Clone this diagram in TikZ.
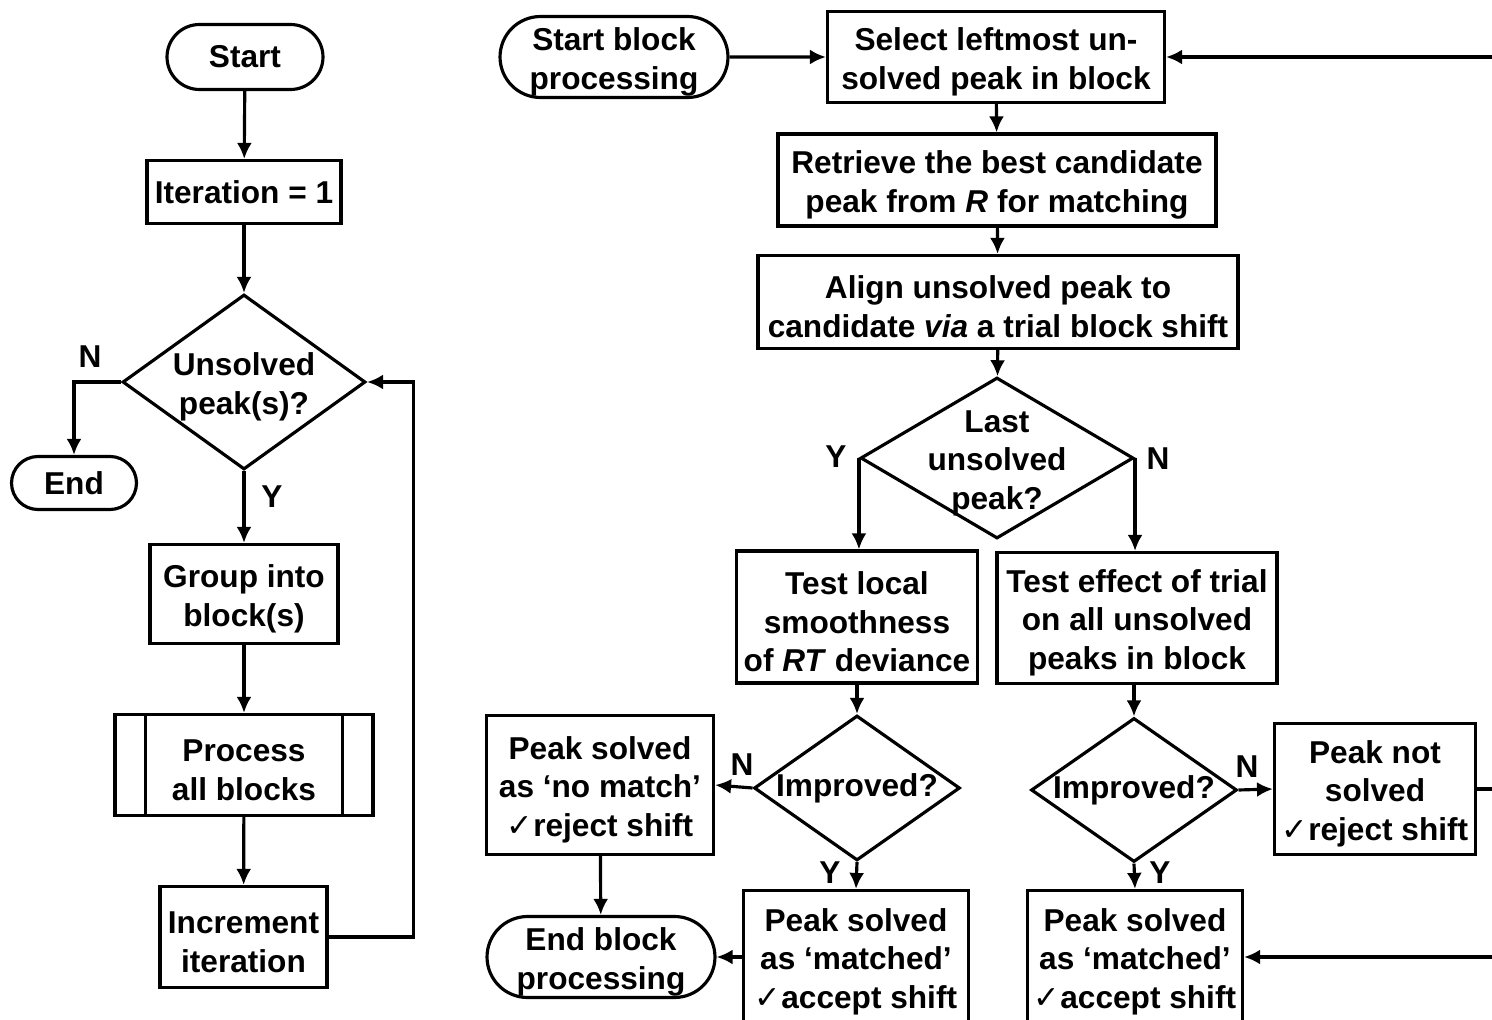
\documentclass[tikz,border=0pt]{standalone}
\usepackage{fontspec}
\setmainfont{Liberation Sans}
\newfontfamily\checkfont{DejaVu Sans}
\usetikzlibrary{positioning,shapes.geometric,shapes.misc,arrows.meta}

\newcommand{\chk}{{\checkfont\mdseries\char"2713}}
\newcommand{\lift}{\rule{0pt}{18.5pt}}

\tikzset{
  base/.style={draw, line width=1.8pt, align=center, inner sep=0pt,
    font=\fontsize{18}{22}\selectfont\bfseries},
  flowbox/.style={base, rectangle},
  term/.style={base, rounded rectangle},
  decide/.style={base, diamond, aspect=1.5},
  yn/.style={font=\fontsize{18}{22}\selectfont\bfseries, inner sep=0pt},
  arr/.style={line width=1.8pt, -{Latex[length=0.32cm,width=0.3cm]}},
  line/.style={line width=1.8pt},
}

\begin{document}
\begin{tikzpicture}[x=0.02cm, y=-0.02cm]
\useasboundingbox (0,0) rectangle (1492,1020);

% outer loop
\node[term, minimum width=3.12cm, minimum height=1.3cm] (start) at (245,57) {Start};
\node[flowbox, minimum width=3.88cm, minimum height=1.26cm] (iter) at (244,192) {Iteration = 1};
\node[decide, inner sep=-0.3cm, minimum width=4.86cm, minimum height=3.5cm] (unsolv) at (244,382) {\lift Unsolved\\peak(s)?};
\node[term, minimum width=2.5cm, minimum height=1.06cm] (endd) at (74,483) {End};
\node[flowbox, minimum width=3.76cm, minimum height=1.98cm] (group) at (244,594) {\lift Group into\\block(s)};
\node[flowbox, minimum width=5.16cm, minimum height=2.02cm] (proc) at (244,765) {\lift Process\\all blocks};
\draw[line] ([xshift=0.64cm]proc.north west) -- ([xshift=0.64cm]proc.south west);
\draw[line] ([xshift=-0.64cm]proc.north east) -- ([xshift=-0.64cm]proc.south east);
\node[flowbox, minimum width=3.34cm, minimum height=2.02cm] (incr) at (243.5,937) {\lift Increment\\iteration};

\draw[arr] (start) -- (iter);
\draw[arr] (iter) -- (unsolv);
\draw[arr] (unsolv.west) -| (endd.north);
\draw[arr] (unsolv.south) -- (group);
\draw[arr] (group) -- (proc);
\draw[arr] (proc) -- (incr);
\draw[arr] (incr.east) -- ++(85,0) |- (unsolv.east);
\node[yn] (n1) at (90,357) {N};
\node[yn] (y1) at (272,497) {Y};

% block processing
\node[term, minimum width=4.56cm, minimum height=1.62cm] (bstart) at (614,57) {\lift Start block\\processing};
\node[flowbox, minimum width=6.74cm, minimum height=1.82cm] (select) at (996,57) {\lift Select leftmost un-\\solved peak in block};
\node[flowbox, minimum width=8.76cm, minimum height=1.84cm] (retr) at (997,180) {\lift Retrieve the best candidate\\peak from \textit{R} for matching};
\node[flowbox, minimum width=9.6cm, minimum height=1.86cm] (align) at (998,302) {\lift Align unsolved peak to\\candidate \textit{via} a trial block shift};
\node[decide, inner sep=-0.3cm, minimum width=5.46cm, minimum height=3.22cm] (last) at (997,458) {\lift Last\\unsolved\\peak?};
\node[flowbox, minimum width=4.82cm, minimum height=2.64cm] (tlocal) at (857,617) {\lift Test local\\smoothness\\of \textit{RT} deviance};
\node[flowbox, minimum width=5.6cm, minimum height=2.62cm] (teffect) at (1137,618) {\lift Test effect of trial\\on all unsolved\\peaks in block};
\node[decide, minimum width=4.02cm, minimum height=2.9cm] (imp1) at (857,788) {Improved?};
\node[decide, minimum width=4.04cm, minimum height=2.88cm] (imp2) at (1134,790) {Improved?};
\node[flowbox, minimum width=4.54cm, minimum height=2.78cm] (nomatch) at (600,785) {\lift Peak solved\\as ‘no match’\\\chk reject shift};
\node[flowbox, minimum width=4.5cm, minimum height=2.66cm] (match1) at (856,957) {\lift Peak solved\\as ‘matched’\\\chk accept shift};
\node[term, minimum width=4.56cm, minimum height=1.62cm] (bend) at (601,957) {\lift End block\\processing};
\node[flowbox, minimum width=4.02cm, minimum height=2.62cm] (notsolv) at (1375,789) {\lift Peak not\\solved\\\chk reject shift};
\node[flowbox, minimum width=4.3cm, minimum height=2.66cm] (match2) at (1135,957) {\lift Peak solved\\as ‘matched’\\\chk accept shift};
\coordinate (rin1) at (1492,57);
\coordinate (rout) at (1492,789);
\coordinate (rin2) at (1492,957);

\draw[arr] (bstart) -- (select);
\draw[arr] (rin1) -- (select.east);
\draw[arr] (select) -- (retr);
\draw[arr] (retr) -- (align);
\draw[arr] (align) -- (last);
\draw[arr] (last.west) -- (last.west |- tlocal.north);
\draw[arr] (last.east) -- (last.east |- teffect.north);
\draw[arr] (tlocal) -- (imp1);
\draw[arr] (imp2.north |- teffect.south) -- (imp2.north);
\draw[arr] (imp1.west) -- (nomatch.east);
\draw[arr] (imp1.south) -- (match1.north);
\draw[arr] (imp2.east) -- (notsolv.west);
\draw[arr] (imp2.south) -- (match2.north);
\draw[arr] (nomatch) -- (bend);
\draw[arr] (match1.west) -- (bend.east);
\draw[line] (notsolv.east) -- (rout);
\draw[arr] (rin2) -- (match2.east);
\node[yn] (y2) at (836,457) {Y};
\node[yn] (n2) at (1158,459) {N};
\node[yn] (n3) at (742,765) {N};
\node[yn] (y3) at (830,873) {Y};
\node[yn] (n4) at (1247,767) {N};
\node[yn] (y4) at (1160,873) {Y};
\end{tikzpicture}
\end{document}
